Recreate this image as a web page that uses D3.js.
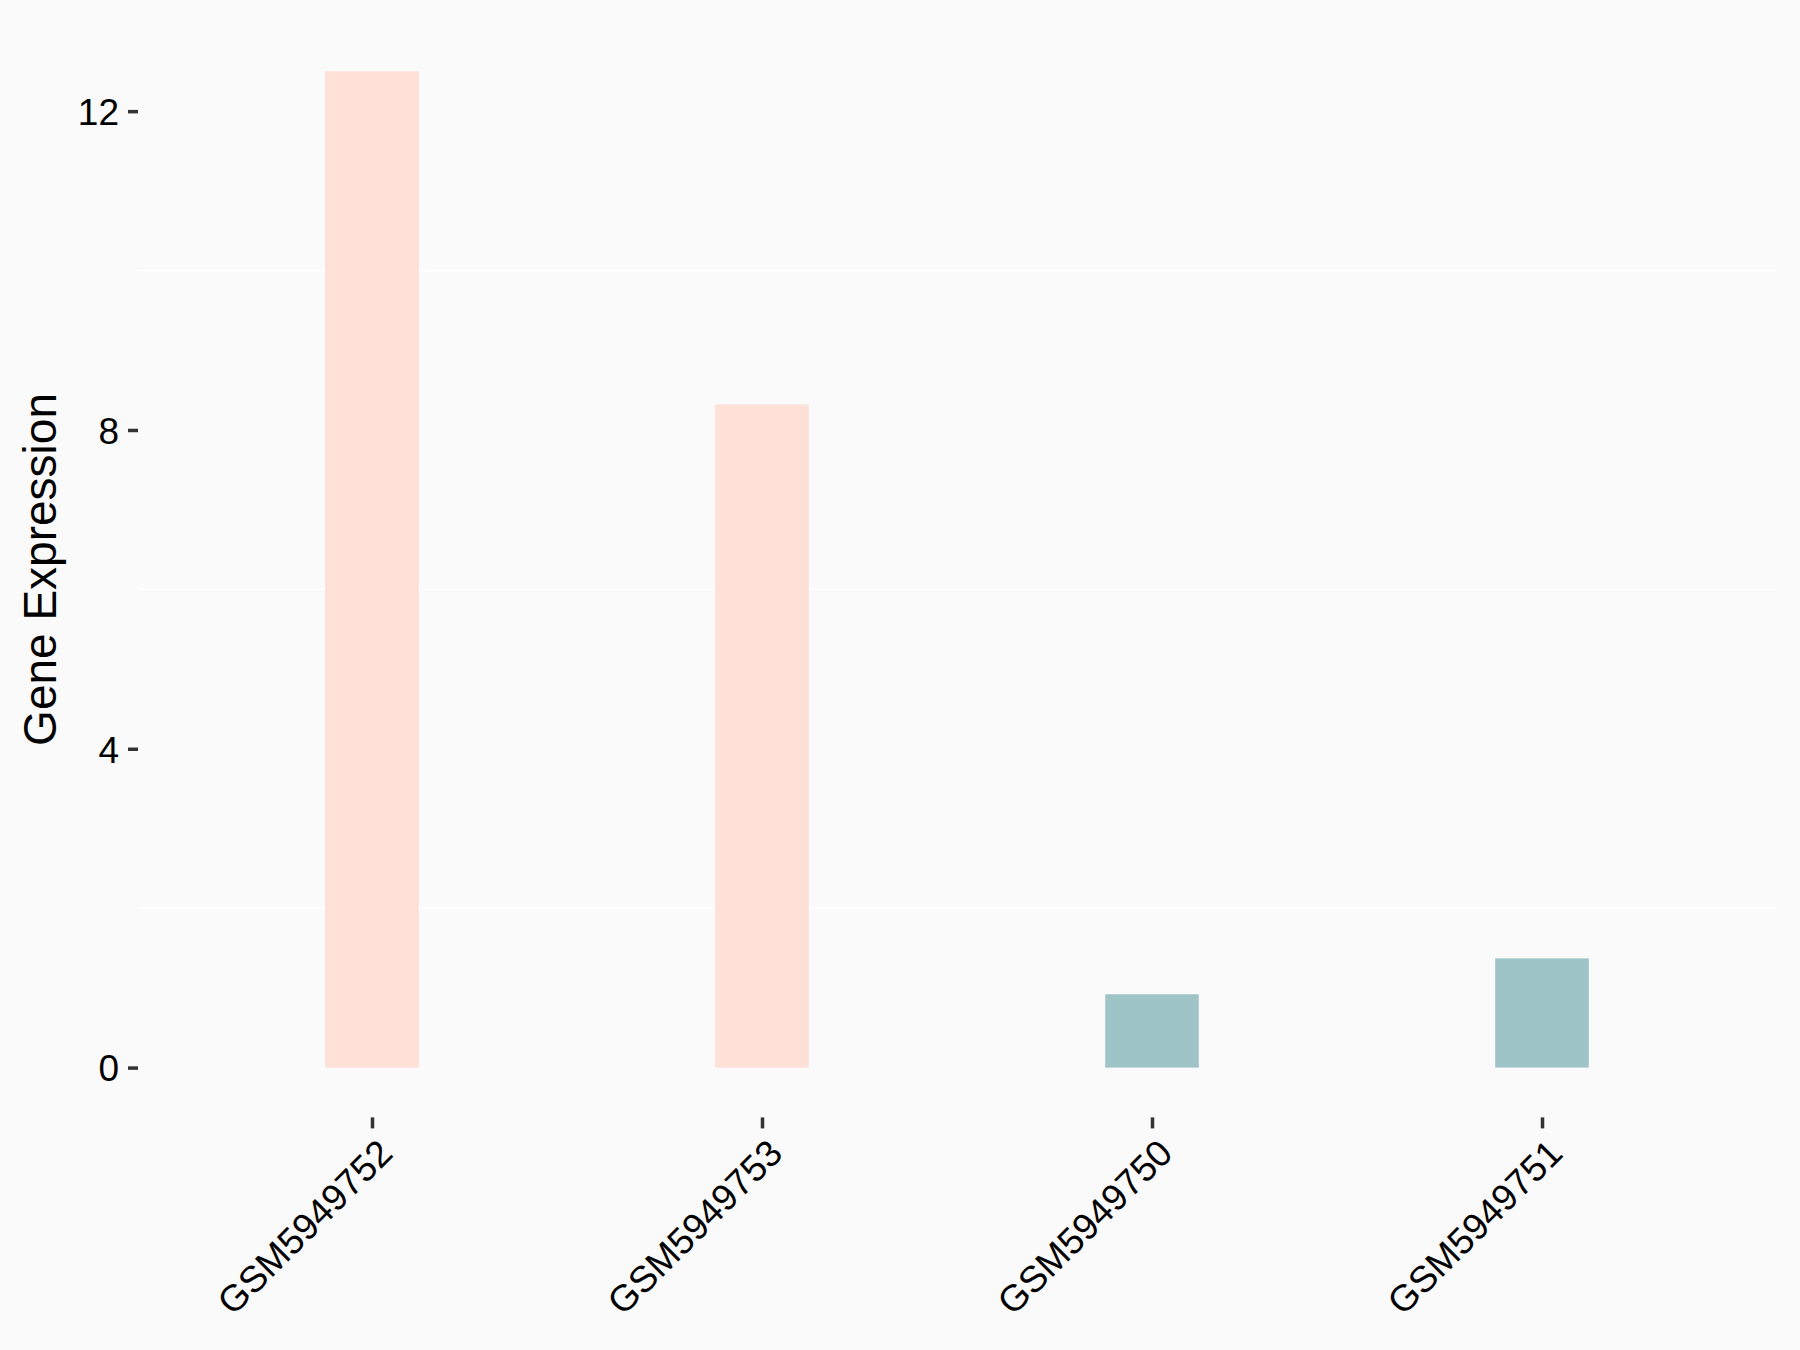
<!DOCTYPE html>
<html>
<head>
<meta charset="utf-8">
<script src="https://cdn.jsdelivr.net/npm/d3@7"></script>
<style>
	body { margin: 0; background: #fafafa; }
	svg { display: block; }
</style>
</head>
<body>
<div id="chart"></div>
<script>
//sample ids and expression values, in plot order
var samples = ['GSM5949752', 'GSM5949753', 'GSM5949750', 'GSM5949751'];
var expression = [12.5, 8.32, 0.92, 1.37];
var groups = ['high', 'high', 'low', 'low'];
var groupColors = { high: '#fee0d6', low: '#9ec4c8' };
var yTicks = [0, 4, 8, 12];
var yMinorTicks = [2, 6, 10];
var yTitle = 'Gene Expression';

var W = 1800, H = 1350;
var panelLeft = 138, panelRight = 1776, panelTop = 21.5, panelBottom = 1117.4;

var data = samples.map(function (s, i) {
	return { sample: s, value: expression[i], group: groups[i] };
});

var svg = d3.select('#chart').append('svg')
	.attr('width', W)
	.attr('height', H)
	.style('font-family', '"Liberation Sans", Arial, sans-serif');

svg.append('rect')
	.attr('width', W)
	.attr('height', H)
	.attr('fill', '#fafafa');

//scales, ggplot style expansion
var x = d3.scalePoint()
	.domain(samples)
	.range([panelLeft, panelRight])
	.padding(0.6);

var yMax = d3.max(data, function (d) { return d.value; });
var y = d3.scaleLinear()
	.domain([-yMax * 0.05, yMax * 1.05])
	.range([panelBottom, panelTop]);

//minor grid lines
svg.append('g')
	.selectAll('line')
	.data(yMinorTicks)
	.enter()
	.append('line')
	.attr('x1', panelLeft)
	.attr('x2', panelRight)
	.attr('y1', function (d) { return y(d); })
	.attr('y2', function (d) { return y(d); })
	.attr('stroke', '#ffffff')
	.attr('stroke-width', 1.6);

//bars
var barW = x.step() * 0.24;
svg.append('g')
	.selectAll('rect')
	.data(data)
	.enter()
	.append('rect')
	.attr('x', function (d) { return x(d.sample) - barW / 2; })
	.attr('y', function (d) { return y(d.value); })
	.attr('width', barW)
	.attr('height', function (d) { return y(0) - y(d.value); })
	.attr('fill', function (d) { return groupColors[d.group]; });

//y axis
var yAxis = d3.axisLeft(y)
	.tickValues(yTicks)
	.tickSize(10)
	.tickPadding(9)
	.tickFormat(d3.format('d'));

var gy = svg.append('g')
	.attr('transform', 'translate(' + panelLeft + ',0)')
	.call(yAxis);
gy.select('.domain').remove();
gy.selectAll('.tick line')
	.attr('stroke', '#333333')
	.attr('stroke-width', 3.5);
gy.selectAll('.tick text')
	.attr('fill', '#000')
	.style('font-size', '37px')
	.attr('dy', '0.36em');

//x axis
var xAxis = d3.axisBottom(x)
	.tickSize(11)
	.tickPadding(0);

var gx = svg.append('g')
	.attr('transform', 'translate(0,' + panelBottom + ')')
	.call(xAxis);
gx.select('.domain').remove();
gx.selectAll('.tick line')
	.attr('stroke', '#333333')
	.attr('stroke-width', 3.5);
gx.selectAll('.tick text')
	.attr('fill', '#000')
	.style('font-size', '37px')
	.attr('text-anchor', 'end')
	.attr('dy', null)
	.attr('y', 0)
	.attr('transform', 'translate(22,38) rotate(-45)');

//y axis title
svg.append('text')
	.attr('transform', 'translate(56,' + ((panelTop + panelBottom) / 2) + ') rotate(-90)')
	.attr('text-anchor', 'middle')
	.attr('fill', '#000')
	.style('font-size', '46px')
	.text(yTitle);
</script>
</body>
</html>
